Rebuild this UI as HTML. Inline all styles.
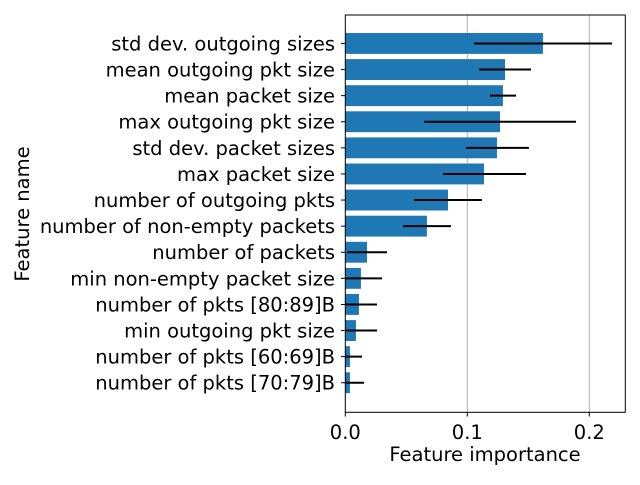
<!DOCTYPE html>
<html><head><meta charset="utf-8"><style>
body{margin:0;background:#fff}
text{font-family:"DejaVu Sans","Liberation Sans",sans-serif;fill:#000}
</style></head><body>
<svg width="640" height="480">
<defs><clipPath id="clip"><rect x="345.3" y="15" width="280" height="397.3"/></clipPath></defs>
<g id="grid"></g><g id="bars" clip-path="url(#clip)"></g><g id="errs" clip-path="url(#clip)"></g>
<rect x="345.3" y="15" width="280" height="397.3" fill="none" stroke="#000" stroke-width="1"/>
<g id="ticks"></g>
<text x="485" y="461" font-size="19.5" text-anchor="middle">Feature importance</text>
<text transform="translate(29,214) rotate(-90)" font-size="19.5" text-anchor="middle">Feature name</text>
</svg>
<script>
const categories=["std dev. outgoing sizes","mean outgoing pkt size","mean packet size","max outgoing pkt size","std dev. packet sizes","max packet size","number of outgoing pkts","number of non-empty packets","number of packets","min non-empty packet size","number of pkts [80:89]B","min outgoing pkt size","number of pkts [60:69]B","number of pkts [70:79]B"];
const values=[0.162,0.1309,0.1292,0.1268,0.1243,0.1137,0.0842,0.0669,0.0178,0.0128,0.0112,0.0087,0.0038,0.0038];
const errLow=[0.1055,0.1096,0.1186,0.0645,0.0989,0.0801,0.0563,0.0473,0.0014,-0.004,-0.004,-0.009,-0.006,-0.008];
const errHigh=[0.2186,0.1522,0.1399,0.1891,0.1505,0.1481,0.1120,0.0866,0.0342,0.0301,0.026,0.026,0.0137,0.0153];
const xTicks=[0,0.1,0.2];
const xTickLabels=["0.0","0.1","0.2"];
const NS="http://www.w3.org/2000/svg";
const X0=345.3,PXU=1220,TOP=15,BAND=26.1,N=categories.length;
const xs=v=>X0+v*PXU;
function mk(tag,at,parent){const e=document.createElementNS(NS,tag);for(const k in at)e.setAttribute(k,at[k]);document.getElementById(parent).appendChild(e);return e;}
xTicks.forEach((t,i)=>{
 if(t>0){const g=mk('line',{x1:xs(t),x2:xs(t),y1:15,y2:412.3,stroke:'#b0b0b0','stroke-width':1},'grid');
 
 }
 const tk=mk('line',{x1:xs(t),x2:xs(t),y1:412.3,y2:416.5,stroke:'#000'},'ticks');
 
 
 const tl=mk('text',{x:xs(t),y:439,'font-size':19.5,'text-anchor':'middle'},'ticks');tl.textContent=xTickLabels[i];
 
 
});
categories.forEach((c,i)=>{
 const cy=TOP+(14.09-(N-1-i))*BAND, h=0.8*BAND;
 const b=mk('rect',{x:xs(0),y:cy-h/2,width:xs(values[i])-xs(0),height:h,fill:'#1f77b4'},'bars');
 
 
 const e=mk('line',{x1:xs(errLow[i]),x2:xs(errHigh[i]),y1:cy,y2:cy,stroke:'#000','stroke-width':2},'errs');
 
 
 const tk=mk('line',{x1:341,x2:345.3,y1:cy,y2:cy,stroke:'#000'},'ticks');
 
 
 const tl=mk('text',{x:335,y:cy+7,'font-size':19.5,'text-anchor':'end'},'ticks');tl.textContent=c;
 
 
});
</script>
</body></html>
